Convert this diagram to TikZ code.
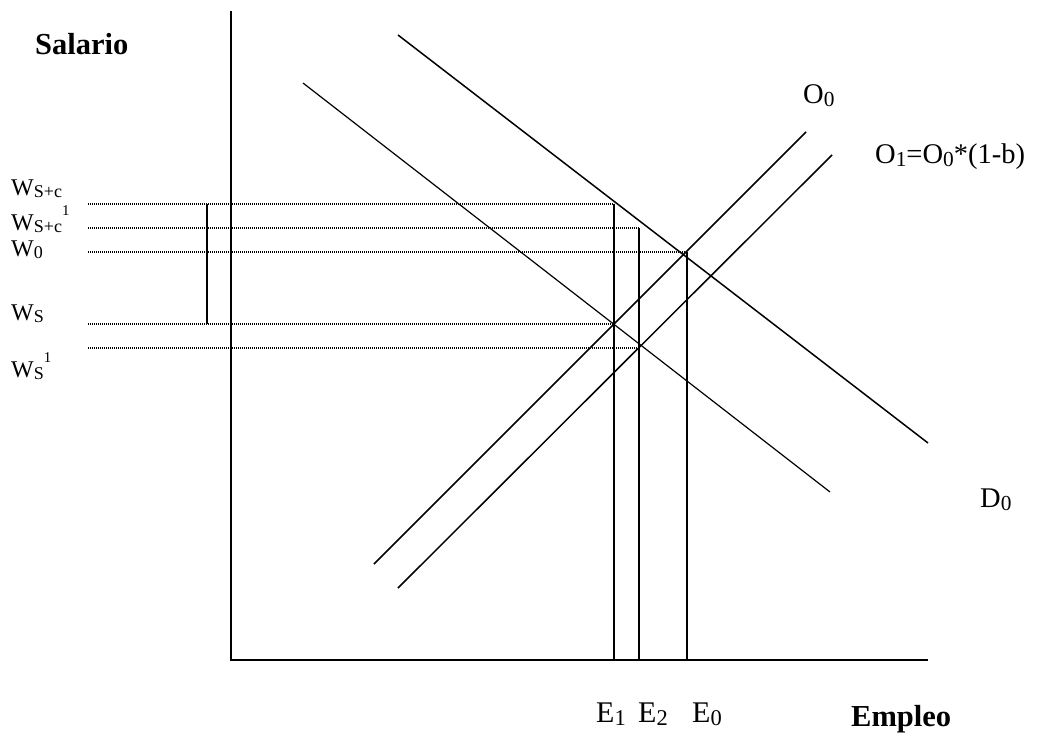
\documentclass[tikz,border=0pt]{standalone}
\usepackage{fontspec}
\setmainfont{Liberation Serif}
\newcommand{\mysub}[1]{\raisebox{-0.12em}{\fontsize{0.75em}{0.9em}\selectfont #1}}
\newcommand{\mysup}[1]{\raisebox{0.62em}{\fontsize{0.62em}{0.8em}\selectfont #1}}
\begin{document}
\begin{tikzpicture}[x=1pt,y=-1pt,
  axis/.style={line width=1.5pt},
  curve/.style={line width=1.5pt},
  thincurve/.style={line width=1.2pt},
  dotline/.style={line width=1.5pt,dash pattern=on 1.2pt off 0.8pt},
  vline/.style={line width=1.5pt},
  wlab/.style={anchor=base west,inner sep=0pt,font=\fontsize{24}{28}\selectfont},
  olab/.style={anchor=base west,inner sep=0pt,font=\fontsize{28.5}{33}\selectfont},
  elab/.style={anchor=base west,inner sep=0pt,font=\fontsize{30}{36}\selectfont},
  blab/.style={anchor=base west,inner sep=0pt,font=\fontsize{30.5}{36}\selectfont\bfseries}]
\useasboundingbox (0,0) rectangle (1045,736);
% axes
\coordinate (ytop) at (231,11);
\coordinate (orig) at (231,660);
\coordinate (xend) at (928,660);
\draw[axis] (ytop) -- (orig) -- (xend);
% demand curves
\coordinate (d0a) at (398,35);
\coordinate (d0b) at (928,443);
\draw[curve] (d0a) -- (d0b);
\coordinate (d1a) at (303,83);
\coordinate (d1b) at (830,492);
\draw[thincurve] (d1a) -- (d1b);
% supply curves
\coordinate (o0a) at (374,564);
\coordinate (o0b) at (806,132);
\draw[curve] (o0a) -- (o0b);
\coordinate (o1a) at (398,588);
\coordinate (o1b) at (832,155);
\draw[curve] (o1a) -- (o1b);
% horizontal dotted lines
\coordinate (h1a) at (88,204); \coordinate (h1b) at (614,204);
\coordinate (h2a) at (88,228); \coordinate (h2b) at (639,228);
\coordinate (h3a) at (88,252); \coordinate (h3b) at (687,252);
\coordinate (h4a) at (88,324); \coordinate (h4b) at (614,324);
\coordinate (h5a) at (88,348); \coordinate (h5b) at (639,348);
\draw[dotline] (h1a) -- (h1b);
\draw[dotline] (h2a) -- (h2b);
\draw[dotline] (h3a) -- (h3b);
\draw[dotline] (h4a) -- (h4b);
\draw[dotline] (h5a) -- (h5b);
% bracket
\coordinate (bra) at (207,204); \coordinate (brb) at (207,324);
\draw[vline] (bra) -- (brb);
% verticals
\coordinate (e1b) at (614,660); \coordinate (e2b) at (639,660); \coordinate (e0b) at (687,660);
\draw[vline] (h1b) -- (e1b);
\draw[vline] (h2b) -- (e2b);
\draw[vline] (h3b) -- (e0b);
% labels
\node[blab] (sal) at (35,54) {Salario};
\node[blab] (emp) at (851,726) {Empleo};
\node[wlab] (w1) at (11,195) {W\mysub{S+c}};
\node[wlab] (w2) at (11,230) {W\mysub{S+c}\mysup{1}};
\node[wlab] (w3) at (11,256) {W\mysub{0}};
\node[wlab] (w4) at (11,320) {W\mysub{S}};
\node[wlab] (w5) at (11,377) {W\mysub{S}\mysup{1}};
\node[olab] (o0) at (803,103) {O\mysub{0}};
\node[olab] (o1) at (875,163) {O\mysub{1}=O\mysub{0}*(1-b)};
\node[olab] (d0) at (980,507) {D\mysub{0}};
\node[elab] (e1) at (596,722) {E\mysub{1}};
\node[elab] (e2) at (638,722) {E\mysub{2}};
\node[elab] (e0) at (692,722) {E\mysub{0}};
\end{tikzpicture}
\end{document}
